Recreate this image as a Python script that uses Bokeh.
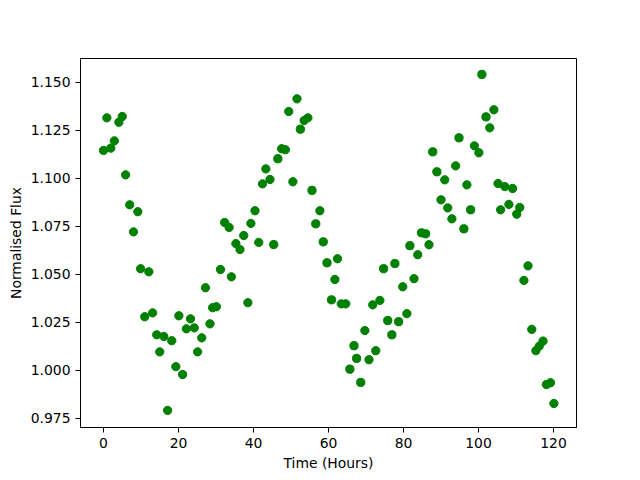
from bokeh.plotting import figure
from bokeh.models import Range1d, FixedTicker, NumeralTickFormatter
from bokeh.embed import file_html
from bokeh.resources import INLINE

time_hours = [0.0, 0.9, 1.95, 2.9, 4.1, 5.0, 5.9, 7.0, 8.0, 9.15, 9.9, 11.0, 12.1, 13.1, 14.2, 15.0,
              16.1, 17.1, 18.2, 19.3, 20.1, 21.1, 22.1, 23.2, 24.2, 25.1, 26.2, 27.2, 28.4, 29.1,
              30.1, 31.2, 32.3, 33.5, 34.1, 35.3, 36.4, 37.4, 38.5, 39.3, 40.4, 41.4, 42.4, 43.3,
              44.4, 45.4, 46.5, 47.5, 48.5, 49.4, 50.5, 51.6, 52.5, 53.5, 54.5, 55.6, 56.6, 57.7,
              58.6, 59.6, 60.8, 61.7, 62.4, 63.4, 64.6, 65.7, 66.8, 67.5, 68.6, 69.7, 70.8, 71.8,
              72.6, 73.7, 74.7, 75.8, 76.9, 77.7, 78.7, 79.8, 80.9, 81.7, 82.8, 83.8, 84.8, 85.9,
              86.8, 87.8, 88.9, 90.0, 91.0, 91.8, 92.9, 93.9, 94.8, 96.1, 96.9, 97.9, 98.9, 100.1,
              100.9, 102.0, 103.0, 104.1, 105.2, 105.9, 107.0, 108.1, 109.1, 110.2, 111.0, 112.1,
              113.2, 114.2, 115.3, 116.2, 117.2, 118.1, 119.2, 120.1]
flux = [1.1146, 1.1316, 1.1158, 1.1196, 1.1293, 1.1323, 1.1019, 1.0863, 1.0722, 1.0827, 1.0530,
        1.0280, 1.0514, 1.0300, 1.0186, 1.0097, 1.0177, 0.9792, 1.0155, 1.0020, 1.0285, 0.9979,
        1.0217, 1.0269, 1.0222, 1.0097, 1.0170, 1.0431, 1.0243, 1.0327, 1.0332, 1.0526, 1.0771,
        1.0745, 1.0488, 1.0661, 1.0630, 1.0703, 1.0353, 1.0766, 1.0832, 1.0667, 1.0972, 1.1050,
        1.0995, 1.0656, 1.1103, 1.1155, 1.1150, 1.1349, 1.0983, 1.1415, 1.1257, 1.1302, 1.1316,
        1.0938, 1.0764, 1.0832, 1.0670, 1.0561, 1.0368, 1.0474, 1.0582, 1.0347, 1.0347, 1.0007,
        1.0129, 1.0063, 0.9938, 1.0208, 1.0056, 1.0342, 1.0103, 1.0365, 1.0530, 1.0260, 1.0186,
        1.0557, 1.0254, 1.0436, 1.0296, 1.0650, 1.0478, 1.0603, 1.0717, 1.0712, 1.0655, 1.1139,
        1.1035, 1.0889, 1.0993, 1.0847, 1.0790, 1.1066, 1.1212, 1.0738, 1.0967, 1.0837, 1.1170,
        1.1134, 1.1542, 1.1321, 1.1264, 1.1358, 1.0974, 1.0837, 1.0958, 1.0865, 1.0948, 1.0814,
        1.0849, 1.0469, 1.0545, 1.0214, 1.0103, 1.0127, 1.0153, 0.9927, 0.9936, 0.9828]

x_ticks = [0, 20, 40, 60, 80, 100, 120]
y_ticks = [0.975, 1.000, 1.025, 1.050, 1.075, 1.100, 1.125, 1.150]

p = figure(width=640, height=480, output_backend="svg", toolbar_location=None,
           x_range=Range1d(-6.13, 126.13), y_range=Range1d(0.9703, 1.1625),
           min_border_left=80, min_border_right=64, min_border_top=58, min_border_bottom=53)

p.scatter(time_hours, flux, size=8.3, color="#008000", line_color="#008000")

p.xgrid.visible = False
p.ygrid.visible = False
p.outline_line_color = "black"
p.outline_line_width = 1
p.background_fill_color = "white"
p.border_fill_color = "white"

p.xaxis.ticker = FixedTicker(ticks=x_ticks)
p.yaxis.ticker = FixedTicker(ticks=y_ticks)
p.yaxis.formatter = NumeralTickFormatter(format="0.000")
p.xaxis.axis_label = "Time (Hours)"
p.yaxis.axis_label = "Normalised Flux"

for ax in (p.xaxis[0], p.yaxis[0]):
    ax.axis_line_color = "black"
    ax.major_tick_line_color = "black"
    ax.major_tick_out = 5
    ax.major_tick_in = 0
    ax.minor_tick_line_color = None
    ax.major_label_text_font = "DejaVu Sans"
    ax.major_label_text_font_size = "13.9px"
    ax.major_label_text_color = "black"
    ax.axis_label_text_font = "DejaVu Sans"
    ax.axis_label_text_font_size = "13.9px"
    ax.axis_label_text_font_style = "normal"
    ax.axis_label_text_color = "black"
    ax.major_label_standoff = 5
    ax.axis_label_standoff = 4

open("out.html", "w").write(file_html(p, INLINE))
